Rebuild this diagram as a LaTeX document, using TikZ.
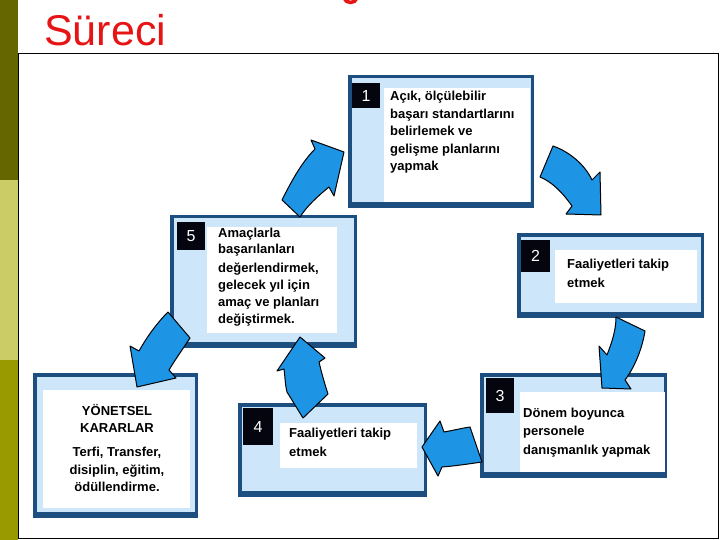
\documentclass[tikz,border=0pt]{standalone}
\usepackage{fontspec}
\setmainfont{Liberation Sans}
\definecolor{oliveA}{RGB}{102,102,0}
\definecolor{oliveB}{RGB}{204,204,102}
\definecolor{oliveC}{RGB}{153,153,0}
\definecolor{titlered}{RGB}{230,20,20}
\definecolor{boxblue}{RGB}{28,78,128}
\definecolor{paleblue}{RGB}{206,230,250}
\definecolor{arrowblue}{RGB}{30,148,228}
\definecolor{numblack}{RGB}{5,5,15}
\newcommand\bluebox[5]{%
  \node[outerbox, minimum width={(#4-#2-3.5)*1pt}, minimum height={(#5-#3-3.5)*1pt}] (#1) at (#2+1.75,#3+1.75) {};
  \fill[boxblue] (#2,#5-6) rectangle (#4,#5);
}
\newcommand\whitebox[5]{%
  \node[whitearea, minimum width={(#4-#2)*1pt}, minimum height={(#5-#3)*1pt}] (#1) at (#2,#3) {};
}
\newcommand\numbox[6]{%
  \node[numsq, minimum width={(#4-#2)*1pt}, minimum height={(#5-#3)*1pt}] (#1) at ({(#2+#4)/2},{(#3+#5)/2}) {#6};
}
\begin{document}
\begin{tikzpicture}[x=1pt,y=-1pt,
  outerbox/.style={draw=boxblue, line width=3.5pt, fill=paleblue, inner sep=0pt, outer sep=0pt, anchor=north west},
  whitearea/.style={fill=white, inner sep=0pt, outer sep=0pt, anchor=north west},
  numsq/.style={fill=numblack, text=white, inner sep=0pt, font=\fontsize{16}{16}\selectfont},
  txt/.style={font=\bfseries\fontsize{13}{16}\selectfont, inner sep=0pt, anchor=base west},
  ctxt/.style={txt, anchor=base},
  barrow/.style={fill=arrowblue, draw=black, line width=1pt, line join=round}]
\useasboundingbox (0,0) rectangle (720,540);
\clip (0,0) rectangle (720,540);
\fill[white] (0,0) rectangle (720,540);
% side bar
\fill[oliveA] (0,0) rectangle (18,180);
\fill[oliveB] (0,180) rectangle (18,360);
\fill[oliveC] (0,360) rectangle (18,540);
% title
\node[anchor=base west, inner sep=0pt, text=titlered, font=\fontsize{43}{43}\selectfont] (title) at (44,46) {Süreci};
% cut-off descender of the line above
\draw[titlered, line width=3.5pt] (344,-2) .. controls (346,4) and (355,4) .. (357,-2);
% frame
\draw[black, line width=1pt] (18,54) rectangle (718,538);

% boxes
\bluebox{b1}{348}{75}{534}{208}
\whitebox{w1}{384}{88}{530}{202}
\numbox{n1}{352}{83}{380}{108}{1}
\bluebox{b2}{517}{233}{704}{318}
\whitebox{w2}{555}{250}{697}{303}
\numbox{n2}{521}{240}{550}{272}{2}
\bluebox{b3}{480}{373}{667}{478}
\whitebox{w3}{520}{392}{665}{472}
\numbox{n3}{486}{378}{514}{413}{3}
\bluebox{b4}{238}{403}{427}{497}
\whitebox{w4}{280}{423}{417}{468}
\numbox{n4}{243}{408}{273}{445}{4}
\bluebox{b5}{170}{215}{357}{348}
\whitebox{w5}{207}{227}{337}{333}
\numbox{n5}{177}{222}{205}{250}{5}
\bluebox{b6}{33}{373}{198}{518}
\whitebox{w6}{43}{390}{190}{508}

% texts
\node[txt] (t1a) at (390,101) {Açık, ölçülebilir};
\node[txt] (t1b) at (390,118.5) {başarı standartlarını};
\node[txt] (t1c) at (390,136) {belirlemek ve};
\node[txt] (t1d) at (390,153.5) {gelişme planlarını};
\node[txt] (t1e) at (390,171) {yapmak};
\node[txt] (t2a) at (567,268) {Faaliyetleri takip};
\node[txt] (t2b) at (567,287) {etmek};
\node[txt] (t3a) at (523,417) {Dönem boyunca};
\node[txt] (t3b) at (523,435) {personele};
\node[txt] (t3c) at (523,454) {danışmanlık yapmak};
\node[txt] (t4a) at (289,437) {Faaliyetleri takip};
\node[txt] (t4b) at (289,456) {etmek};
\node[txt] (t5a) at (218,237) {Amaçlarla};
\node[txt] (t5b) at (218,254) {başarılanları};
\node[txt] (t5c) at (218,272) {değerlendirmek,};
\node[txt] (t5d) at (218,289) {gelecek yıl için};
\node[txt] (t5e) at (218,306) {amaç ve planları};
\node[txt] (t5f) at (218,323) {değiştirmek.};
\node[ctxt] (t6a) at (117,415) {YÖNETSEL};
\node[ctxt] (t6b) at (117,432) {KARARLAR};
\node[ctxt] (t6c) at (117,456) {Terfi, Transfer,};
\node[ctxt] (t6d) at (117,474) {disiplin, eğitim,};
\node[ctxt] (t6e) at (117,491) {ödüllendirme.};

% block arrows
% 5 -> 1
\draw[barrow] (311,140) -- (344,152) -- (334,196) -- (329,187)
  .. controls (318,196) and (307,206) .. (300,217) -- (282,200)
  .. controls (292,180) and (302,162) .. (315,149) -- cycle;
% 1 -> 2
\draw[barrow] (553,146) .. controls (570,152) and (585,165) .. (592,180)
  -- (600,172) -- (601,215) -- (566,214) -- (572,206)
  .. controls (562,192) and (552,182) .. (540,177) -- cycle;
% 2 -> 3
\draw[barrow] (616,317) -- (645,331) .. controls (642,350) and (634,368) .. (625,380)
  -- (631,389) -- (602,388) -- (599,346) -- (607,355)
  .. controls (612,342) and (616,330) .. (616,317) -- cycle;
% 3 -> 4
\draw[barrow] (422,447) -- (440,421) -- (444,432)
  .. controls (455,430) and (463,428) .. (470,427) -- (482,462)
  .. controls (468,464) and (455,466) .. (442,467) -- (438,476) -- cycle;
% 4 -> 5
\draw[barrow] (300,337) -- (325,358) -- (319,362)
  .. controls (322,375) and (326,388) .. (328,394) -- (303,418) -- (287,392)
  .. controls (285,384) and (285,376) .. (284,369) -- (277,371) -- cycle;
% 5 -> 6
\draw[barrow] (168,312) -- (190,338) .. controls (182,350) and (175,360) .. (169,370)
  -- (176,378) -- (137,387) -- (130,346) -- (139,351)
  .. controls (148,335) and (158,322) .. (168,312) -- cycle;
\end{tikzpicture}
\end{document}
